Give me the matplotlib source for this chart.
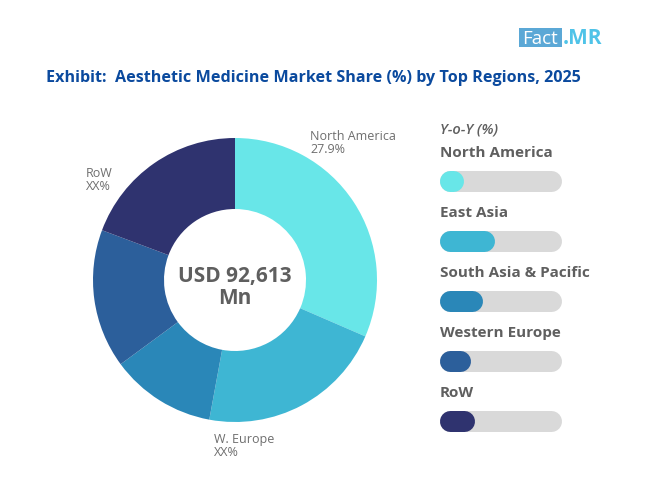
# Donut chart with Y-o-Y progress bars
import matplotlib
matplotlib.use('Agg')
import matplotlib.pyplot as plt
from matplotlib.patches import Rectangle

# Donut data
regions = ['North America', 'East Asia', 'South Asia & Pacific', 'Western Europe', 'RoW']
shares = [31.5, 21.4, 12.0, 15.8, 19.3]
colors = ['#68E6E8', '#3EB6D3', '#2A87B8', '#2C5F9B', '#2F336F']

# Y-o-Y bar fill, percent of the track
yoy_fill = [20, 45, 35, 25, 29]

title = 'Exhibit:  Aesthetic Medicine Market Share (%) by Top Regions, 2025'
center_text = 'USD 92,613\nMn'

W, H = 650, 488
GREY = '#5F5F5F'
plt.rcParams['font.family'] = ['Open Sans', 'DejaVu Sans']


def px(x, y):
    return x / W, 1 - y / H


def box(x0, y0, x1, y1):
    return [x0 / W, 1 - y1 / H, (x1 - x0) / W, (y1 - y0) / H]


fig = plt.figure(figsize=(W / 100, H / 100), dpi=100)

# Donut
ax = fig.add_axes(box(93, 138, 377, 422))
ax.pie(shares, colors=colors, startangle=90, counterclock=False, radius=1,
       wedgeprops={'width': 0.5, 'linewidth': 0})
ax.set_xlim(-1, 1)
ax.set_ylim(-1, 1)
ax.text(0, -0.05, center_text, ha='center', va='center', fontsize=15, fontweight='bold',
        color=GREY, linespacing=1.05)

# Pie labels
fig.text(*px(310, 143), 'North America\n27.9%', fontsize=9, color='#6E6E6E', va='center', linespacing=0.95)
fig.text(*px(86, 180), 'RoW\nXX%', fontsize=9, color='#6E6E6E', va='center', linespacing=0.95)
fig.text(*px(214, 446), 'W. Europe\nXX%', fontsize=9, color='#6E6E6E', va='center', linespacing=0.95)

# Title
fig.text(*px(46, 78), title, fontsize=11.6, fontweight='bold', color='#0B4A9E', va='center')

# Logo
fig.add_artist(Rectangle(px(519, 47), 43 / W, 19 / H, transform=fig.transFigure,
                         facecolor='#5BA8D6', edgecolor='none'))
fig.text(*px(540.5, 44), 'Fact', fontsize=13.5, color='white', ha='center', va='baseline')
fig.text(*px(563, 44), '.MR', fontsize=15, color='#4FC3E8', fontweight='bold', va='baseline')

# Y-o-Y panel
fig.text(*px(440, 130), 'Y-o-Y (%)', fontsize=10.5, fontstyle='italic', fontweight='semibold',
         color=GREY, va='center')

bar_ax = fig.add_axes(box(439.5, 151, 562, 451))
bar_ax.set_xlim(0, 100)
bar_ax.set_ylim(4.5, -0.5)
bar_ax.axis('off')

lw = 21 * 72 / 100  # bar height 21 px, in points
cap = 10.5 / 122 * 100  # cap radius in data units

for i, (name, fill, c) in enumerate(zip(regions, yoy_fill, colors)):
    bar_ax.plot([cap, 100 - cap], [i, i], color='#D9D9D9', lw=lw, solid_capstyle='round')
    bar_ax.plot([cap, fill - cap], [i, i], color=c, lw=lw, solid_capstyle='round')
    fig.text(*px(440, 153 + 60 * i), name, fontsize=11, fontweight='bold', color=GREY, va='center')

fig.savefig('out.png', dpi=100)
